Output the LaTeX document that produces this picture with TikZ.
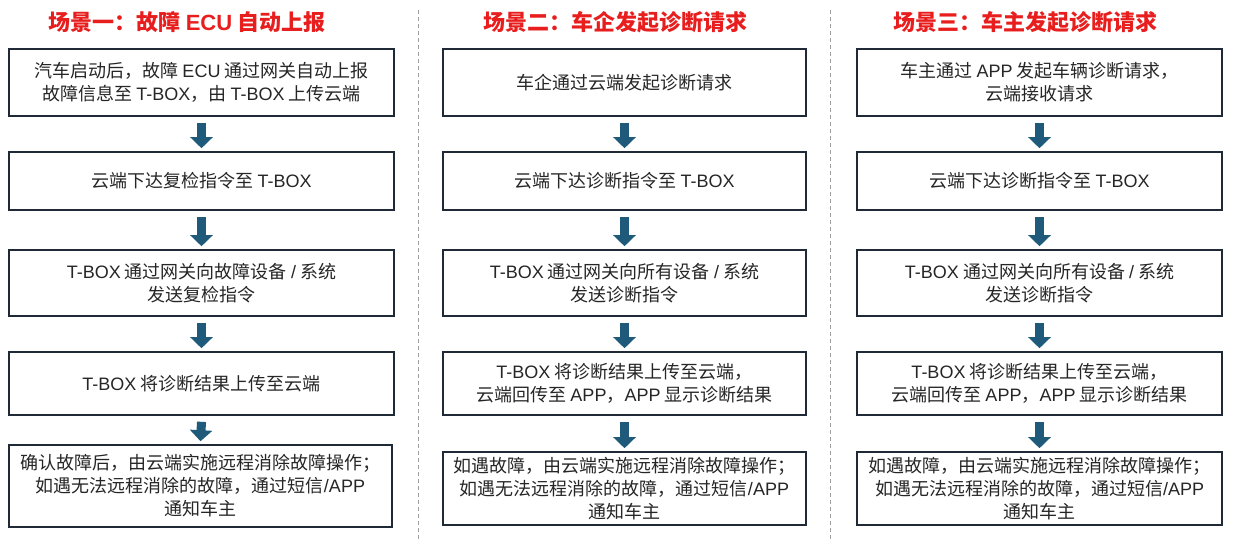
\documentclass[tikz,border=0pt]{standalone}
\usepackage{fontspec}
\setmainfont{Noto Sans CJK SC}
\newfontfamily\latinfont{Liberation Sans}
\newcommand{\ltn}[1]{{\latinfont #1}}
\usetikzlibrary{arrows.meta}
\definecolor{boxline}{HTML}{1F2A36}
\definecolor{arrowc}{HTML}{1F5A7A}
\definecolor{txt}{HTML}{262626}
\definecolor{hdrred}{HTML}{E81E1E}
\begin{document}
\begin{tikzpicture}[x=1pt,y=-1pt,
  stepbox/.style={draw=boxline,line width=1.6pt,fill=white,align=center,text=txt,
    font=\fontsize{18}{23}\selectfont,inner sep=2pt},
  flowarrow/.style={draw=arrowc,line width=9pt,-{Triangle[width=22pt,length=11pt]}},
  titletext/.style={text=hdrred,font=\fontsize{22}{26}\selectfont\bfseries},
  sepline/.style={draw=gray!75,line width=1pt,dash pattern=on 4pt off 3pt}]
\useasboundingbox (0,0) rectangle (1233,539);

% separators
\coordinate (s1t) at (418,10);
\coordinate (s1b) at (418,539);
\coordinate (s2t) at (830,10);
\coordinate (s2b) at (830,539);
\draw[sepline] (s1t) -- (s1b);
\draw[sepline] (s2t) -- (s2b);

% titles
\node[titletext] (t1) at (187,22) {场景一：故障 {\latinfont\bfseries ECU} 自动上报};
\node[titletext] (t2) at (615,22) {场景二：车企发起诊断请求};
\node[titletext] (t3) at (1025,22) {场景三：车主发起诊断请求};

% column 1
\node[stepbox,minimum width=385pt,minimum height=67pt] (a1) at (201.5,82.5)
  {汽车启动后，故障 \ltn{ECU} 通过网关自动上报\\故障信息至 \ltn{T-BOX}，由 \ltn{T-BOX} 上传云端};
\node[stepbox,minimum width=385pt,minimum height=58pt] (a2) at (201.5,181)
  {云端下达复检指令至 \ltn{T-BOX}};
\node[stepbox,minimum width=385pt,minimum height=66pt] (a3) at (201.5,283)
  {\ltn{T-BOX} 通过网关向故障设备 \ltn{/} 系统\\发送复检指令};
\node[stepbox,minimum width=385pt,minimum height=63pt] (a4) at (201.5,383.5)
  {\ltn{T-BOX} 将诊断结果上传至云端};
\node[stepbox,minimum width=383pt,minimum height=82pt] (a5) at (200.5,486)
  {确认故障后，由云端实施远程消除故障操作；\\如遇无法远程消除的故障，通过短信\ltn{/APP}\\通知车主};

% column 2
\node[stepbox,minimum width=363pt,minimum height=67pt] (b1) at (624.5,82.5)
  {车企通过云端发起诊断请求};
\node[stepbox,minimum width=363pt,minimum height=58pt] (b2) at (624.5,181)
  {云端下达诊断指令至 \ltn{T-BOX}};
\node[stepbox,minimum width=363pt,minimum height=66pt] (b3) at (624.5,283)
  {\ltn{T-BOX} 通过网关向所有设备 \ltn{/} 系统\\发送诊断指令};
\node[stepbox,minimum width=363pt,minimum height=63pt] (b4) at (624.5,383.5)
  {\ltn{T-BOX} 将诊断结果上传至云端，\\云端回传至 \ltn{APP}，\ltn{APP} 显示诊断结果};
\node[stepbox,minimum width=363pt,minimum height=73pt] (b5) at (624.5,488.5)
  {如遇故障，由云端实施远程消除故障操作；\\如遇无法远程消除的故障，通过短信\ltn{/APP}\\通知车主};

% column 3
\node[stepbox,minimum width=365pt,minimum height=67pt] (c1) at (1039.5,82.5)
  {车主通过 \ltn{APP} 发起车辆诊断请求，\\云端接收请求};
\node[stepbox,minimum width=365pt,minimum height=58pt] (c2) at (1039.5,181)
  {云端下达诊断指令至 \ltn{T-BOX}};
\node[stepbox,minimum width=365pt,minimum height=66pt] (c3) at (1039.5,283)
  {\ltn{T-BOX} 通过网关向所有设备 \ltn{/} 系统\\发送诊断指令};
\node[stepbox,minimum width=365pt,minimum height=63pt] (c4) at (1039.5,383.5)
  {\ltn{T-BOX} 将诊断结果上传至云端，\\云端回传至 \ltn{APP}，\ltn{APP} 显示诊断结果};
\node[stepbox,minimum width=365pt,minimum height=73pt] (c5) at (1039.5,488.5)
  {如遇故障，由云端实施远程消除故障操作；\\如遇无法远程消除的故障，通过短信\ltn{/APP}\\通知车主};

% arrows
\foreach \p in {a,b,c}{
  \draw[flowarrow] ([yshift=-6pt]\p1.south) -- ([yshift=3pt]\p2.north);
  \draw[flowarrow] ([yshift=-6pt]\p2.south) -- ([yshift=3pt]\p3.north);
  \draw[flowarrow] ([yshift=-6pt]\p3.south) -- ([yshift=3pt]\p4.north);
  \draw[flowarrow] ([yshift=-6pt]\p4.south) -- ([yshift=3pt]\p5.north);
}
\end{tikzpicture}
\end{document}
